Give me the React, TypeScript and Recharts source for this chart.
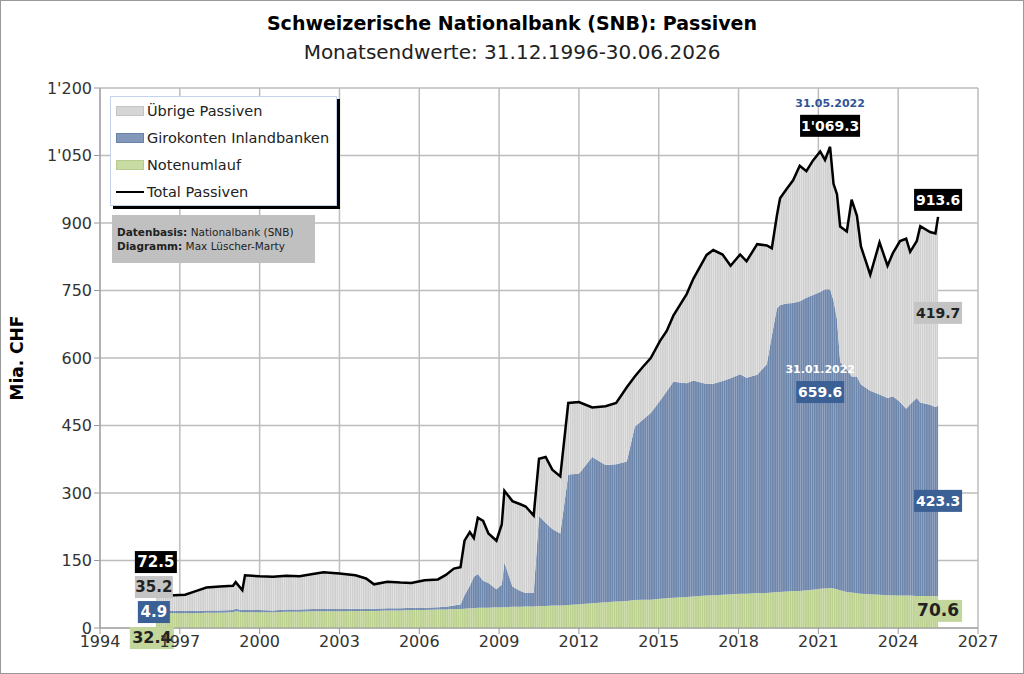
import React from "react";
import { ComposedChart, Area, Line, XAxis, YAxis, CartesianGrid, ReferenceDot } from "recharts";

const YEARS = [1996.1,1996.6,1997.2,1997.6,1998.0,1998.5,1999.0,1999.1,1999.35,1999.45,2000.0,2000.5,2001.0,2001.5,2002.0,2002.4,2003.0,2003.6,2004.0,2004.3,2004.8,2005.3,2005.7,2006.2,2006.7,2007.0,2007.3,2007.55,2007.7,2007.9,2008.05,2008.2,2008.4,2008.6,2008.9,2009.1,2009.2,2009.5,2009.8,2010.0,2010.3,2010.5,2010.75,2011.0,2011.3,2011.6,2012.0,2012.5,2013.0,2013.4,2013.8,2014.1,2014.4,2014.7,2015.05,2015.3,2015.55,2016.05,2016.3,2016.8,2017.05,2017.4,2017.7,2018.06,2018.3,2018.7,2019.06,2019.25,2019.44,2019.56,2019.8,2020.05,2020.3,2020.55,2020.8,2021.07,2021.25,2021.44,2021.57,2021.7,2021.82,2022.07,2022.25,2022.45,2022.6,2022.95,2023.3,2023.6,2023.8,2024.07,2024.3,2024.45,2024.7,2024.83,2025.2,2025.4,2025.5];
const TOTAL = [71,72,74,82,90,92,94,102,84,117,115,114,116,115,120,124,121,117,110,97,103,101,100,106,108,118,132,135,194,213,200,245,238,210,194,230,305,282,275,270,250,376,380,352,337,500,502,490,493,500,535,559,580,600,638,660,694,742,776,829,840,830,805,830,815,853,850,844,916,955,975,995,1027,1015,1039,1059,1040,1069.3,987,964,892,881,952,916,848,785,857,805,833,860,865,836,860,893,880,877,913.6];
const GIRO = [4.9,5,5,5,5,5,5,6,5,5,5,4,5,5,5,5,5,5,5,5,5,5,5,5,5,6,8,10,30,50,70,75,60,55,40,50,100,45,35,30,30,200,185,170,160,290,290,325,305,305,310,385,400,415,440,460,480,475,480,470,470,475,480,488,480,485,508,570,630,638,640,640,644,650,655,659.6,665,664,640,600,507,495,480,482,465,452,445,438,442,430,415,425,440,430,425,420,423.3];
const NOTEN = [32.4,33,33,33,34,34,35,37,35,35,35,35,36,36,37,37,37,38,38,38,39,39,40,40,41,41,42,42,43,44,44,45,45,45,46,46,46,47,47,48,48,49,49,50,50,51,53,55,57,59,60,62,63,63,65,66,67,69,70,72,73,74,75,76,76,78,78,79,80,80,81,82,82,84,85,87,88,89,88,86,84,80,79,77,76,75,74,73,73,72,72,72,71,71,71,71,70.6];
const X_TICKS = [1994,1997,2000,2003,2006,2009,2012,2015,2018,2021,2024,2027];
const Y_TICKS = [0,150,300,450,600,750,900,1050,1200];

const data = YEARS.map((x, i) => ({
  x,
  noten: NOTEN[i],
  giro: GIRO[i],
  uebrige: +(TOTAL[i] - GIRO[i] - NOTEN[i]).toFixed(1),
  total: TOTAL[i],
}));

const FONT = "'DejaVu Sans', Verdana, sans-serif";
const fmt = (v: number) => (v >= 1000 ? `${Math.floor(v / 1000)}'${String(v % 1000).padStart(3, "0")}` : String(v));

const tag = (text: string, bg: string, fg: string, dx: number, dy: number, w: number, fs = 14) => (p: any) => (
  <g>
    <rect x={p.cx + dx - w / 2} y={p.cy + dy - 11} width={w} height={22} fill={bg} />
    <text x={p.cx + dx} y={p.cy + dy + 5} textAnchor="middle" fontFamily={FONT} fontWeight="bold" fontSize={fs} fill={fg}>{text}</text>
  </g>
);
const plain = (text: string, fg: string, dx: number, dy: number) => (p: any) => (
  <text x={p.cx + dx} y={p.cy + dy} textAnchor="middle" fontFamily={FONT} fontWeight="bold" fontSize={11} fill={fg}>{text}</text>
);

export default function App() {
  const first = data[0];
  const last = data[data.length - 1];
  const peak = data.find((d) => d.total === 1069.3)!;
  const gpeak = data.find((d) => d.giro === 659.6)!;
  return (
    <div style={{ position: "absolute", left: 0, top: 0, width: 1024, height: 674, background: "#fff", fontFamily: FONT }}>
      <div style={{ position: "absolute", inset: 0, border: "1px solid #999", boxSizing: "border-box" }} />
      <div style={{ position: "absolute", top: 12, width: 1024, textAlign: "center", fontWeight: "bold", fontSize: 19, color: "#000" }}>
        Schweizerische Nationalbank (SNB): Passiven
      </div>
      <div style={{ position: "absolute", top: 40, width: 1024, textAlign: "center", fontSize: 20, color: "#222" }}>
        Monatsendwerte: 31.12.1996-30.06.2026
      </div>
      <div style={{ position: "absolute", left: -28, top: 347, width: 90, height: 22, lineHeight: "22px", transform: "rotate(-90deg)", fontWeight: "bold", fontSize: 17, textAlign: "center", whiteSpace: "nowrap" }}>
        Mia. CHF
      </div>
      <ComposedChart width={1024} height={674} data={data} margin={{ top: 88, right: 46, bottom: 16, left: 30 }}>
        <defs>
          <pattern id="pg" patternUnits="userSpaceOnUse" width="2.2" height="10">
            <rect width="2.2" height="10" fill="#e6e6e6" />
            <rect width="1.5" height="10" fill="#cfcfcf" />
          </pattern>
          <pattern id="pb" patternUnits="userSpaceOnUse" width="2.2" height="10">
            <rect width="2.2" height="10" fill="#9aaac4" />
            <rect width="1.5" height="10" fill="#6d86ab" />
          </pattern>
          <pattern id="pn" patternUnits="userSpaceOnUse" width="2.2" height="10">
            <rect width="2.2" height="10" fill="#d4e2b4" />
            <rect width="1.5" height="10" fill="#bcd190" />
          </pattern>
        </defs>
        <CartesianGrid stroke="#bdbdbd" strokeWidth={1.5} />
        <XAxis dataKey="x" type="number" domain={[1994, 2027]} ticks={X_TICKS} tick={{ fontSize: 16, fill: "#333", fontFamily: FONT }} stroke="#999" tickLine={{ stroke: "#999" }} height={30} />
        <YAxis domain={[0, 1200]} ticks={Y_TICKS} tickFormatter={fmt} tick={{ fontSize: 16, fill: "#333", fontFamily: FONT }} stroke="#999" width={70} />
        <Area type="linear" dataKey="noten" stackId="s" stroke="none" fill="url(#pn)" fillOpacity={1} isAnimationActive={false} />
        <Area type="linear" dataKey="giro" stackId="s" stroke="none" fill="url(#pb)" fillOpacity={1} isAnimationActive={false} />
        <Area type="linear" dataKey="uebrige" stackId="s" stroke="none" fill="url(#pg)" fillOpacity={1} isAnimationActive={false} />
        <Line type="linear" dataKey="total" stroke="#000" strokeWidth={2.5} dot={false} isAnimationActive={false} />
        <ReferenceDot x={first.x} y={first.total} r={1} ifOverflow="visible" shape={tag("72.5", "#000", "#fff", 0, -34, 42, 15)} />
        <ReferenceDot x={first.x} y={first.total} r={1} ifOverflow="visible" shape={tag("35.2", "#c4c4c4", "#222", -2, -9, 38, 15)} />
        <ReferenceDot x={first.x} y={first.total} r={1} ifOverflow="visible" shape={tag("4.9", "#3a6095", "#fff", -2, 16, 32, 15)} />
        <ReferenceDot x={first.x} y={first.total} r={1} ifOverflow="visible" shape={tag("32.4", "#c3d69b", "#222", -4, 42, 44, 16)} />
        <ReferenceDot x={last.x} y={last.total} r={1} ifOverflow="visible" shape={tag("913.6", "#000", "#fff", 0, -17, 48)} />
        <ReferenceDot x={last.x} y={last.total} r={1} ifOverflow="visible" shape={tag("419.7", "#c4c4c4", "#222", 0, 96, 48)} />
        <ReferenceDot x={last.x} y={last.total} r={1} ifOverflow="visible" shape={tag("423.3", "#3a6095", "#fff", 0, 284, 48)} />
        <ReferenceDot x={last.x} y={last.total} r={1} ifOverflow="visible" shape={tag("70.6", "#c3d69b", "#222", 0, 394, 48, 17)} />
        <ReferenceDot x={peak.x} y={peak.total} r={1} ifOverflow="visible" shape={tag("1'069.3", "#000", "#fff", 0, -21, 60)} />
        <ReferenceDot x={peak.x} y={peak.total} r={1} ifOverflow="visible" shape={plain("31.05.2022", "#2f5597", 0, -40)} />
        <ReferenceDot x={gpeak.x} y={gpeak.giro + gpeak.noten} r={1} ifOverflow="visible" shape={plain("31.01.2022", "#fff", 0, 81)} />
        <ReferenceDot x={gpeak.x} y={gpeak.giro + gpeak.noten} r={1} ifOverflow="visible" shape={tag("659.6", "#3a6095", "#fff", 0, 100, 48)} />
      </ComposedChart>
      <div style={{ position: "absolute", left: 110, top: 96, width: 225, height: 108, background: "#fff", border: "1px solid #c5d3ea", boxShadow: "3px 3px 0 #000", fontSize: 14.5, color: "#222" }}>
        {[
          ["Übrige Passiven", "#d6d6d6", "#c4c4c4"],
          ["Girokonten Inlandbanken", "#8397b9", "#6a82a8"],
          ["Notenumlauf", "#c9dba5", "#b7cb8c"],
        ].map(([t, c, b], i) => (
          <div key={t} style={{ position: "absolute", left: 5, top: 4 + i * 27, height: 20, display: "flex", alignItems: "center" }}>
            <span style={{ display: "inline-block", width: 26, height: 8, background: c, border: `1px solid ${b}`, marginRight: 3 }} />
            {t}
          </div>
        ))}
        <div style={{ position: "absolute", left: 5, top: 85, height: 20, display: "flex", alignItems: "center" }}>
          <span style={{ display: "inline-block", width: 28, height: 2.5, background: "#000", marginRight: 3 }} />
          Total Passiven
        </div>
      </div>
      <div style={{ position: "absolute", left: 112, top: 215, width: 203, height: 48, background: "#c0c0c0", fontSize: 10.5, color: "#222", padding: "10px 0 0 5px", boxSizing: "border-box", lineHeight: "14px" }}>
        <div><b>Datenbasis:</b> Nationalbank (SNB)</div>
        <div><b>Diagramm:</b> Max Lüscher-Marty</div>
      </div>
    </div>
  );
}
